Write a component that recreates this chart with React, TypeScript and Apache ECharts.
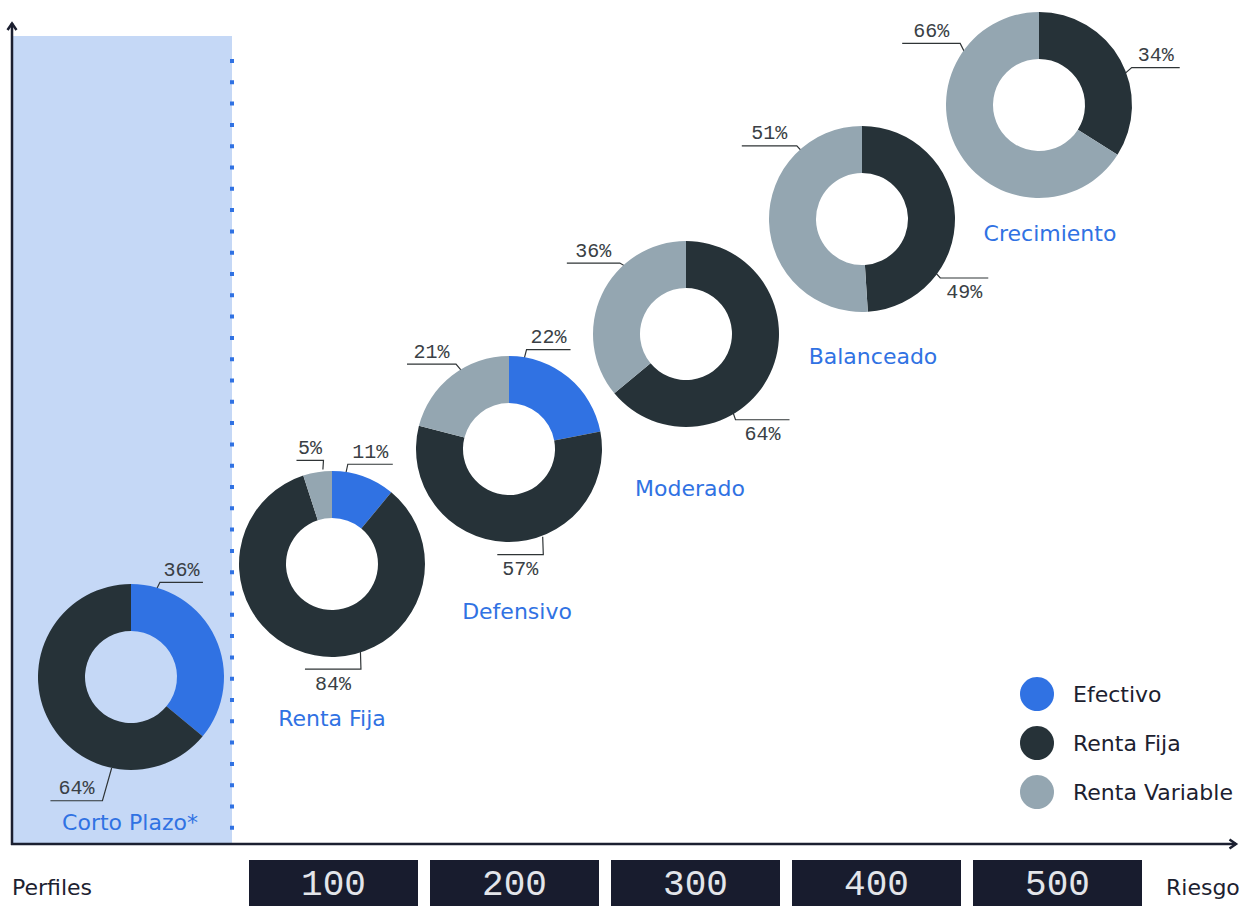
import React, { useEffect, useRef } from "react";
import * as echarts from "echarts";

// ---- data ----
const PROFILES = ["Corto Plazo*", "Renta Fija", "Defensivo", "Moderado", "Balanceado", "Crecimiento"];
const ASSET_CLASSES = ["Efectivo", "Renta Fija", "Renta Variable"];
const EFECTIVO = [36, 11, 22, 0, 0, 0];
const RENTA_FIJA = [64, 84, 57, 64, 49, 34];
const RENTA_VARIABLE = [0, 5, 21, 36, 51, 66];
const RISK_TICKS = ["100", "200", "300", "400", "500"];
const AXIS_TITLES = ["Perfiles", "Riesgo"];

// ---- layout / style ----
const W = 1243;
const H = 906;
const PIE_CENTERS = [
  [131, 677],
  [332, 564],
  [509, 449],
  [686, 334],
  [862, 219],
  [1039, 105],
];
const NAME_POS = [
  [130, 822],
  [332, 718],
  [517, 611],
  [690, 488],
  [873, 356],
  [1050, 233],
];
const COLORS: Record<string, string> = {
  Efectivo: "#3072e3",
  "Renta Fija": "#263238",
  "Renta Variable": "#94a6b1",
};
// leader layout per profile / asset class:
// [anchorAngle, anchorR, elbowAngle, elbowR, direction, textBelow, segmentLength]
const LEADERS: (number[] | null)[][] = [
  [[14, 75, 17, 99, 1, 0, 43], [192, 93, 193, 127, -1, 0, 52], null],
  [[8, 76, 9, 101, 1, 0, 45], [162, 92, 164.6, 109, -1, 1, 56], [354.5, 95, 355.3, 104, -1, 0, 27]],
  [[8, 70, 10, 101, 1, 0, 44], [159, 94, 162, 111, -1, 1, 46], [331, 73, 328, 100, -1, 0, 49]],
  [null, [149, 91, 150, 99, 1, 1, 54], [322, 75, 317, 97, -1, 0, 53]],
  [null, [126, 90, 127, 98, 1, 1, 48], [318.6, 78, 318.3, 98, -1, 0, 55]],
  [null, [70, 91, 68, 100, 1, 0, 48], [299, 76, 308, 100, -1, 0, 58]],
];
const AXIS_COLOR = "#1b1f30";
const TEXT_DARK = "#1c2130";
const SANS = "DejaVu Sans";
const MONO = "'Liberation Mono', 'Courier New', monospace";

function buildOption() {
  const values = [EFECTIVO, RENTA_FIJA, RENTA_VARIABLE];
  const series = PROFILES.map((profile, i) => {
    const items: any[] = [];
    const leaders: (number[] | null)[] = [];
    ASSET_CLASSES.forEach((name, k) => {
      const v = values[k][i];
      if (v > 0) {
        items.push({ name, value: v, itemStyle: { color: COLORS[name] } });
        leaders.push(LEADERS[i][k]);
      }
    });
    const [cx, cy] = PIE_CENTERS[i];
    const pt = (a: number, r: number) => {
      const t = (a * Math.PI) / 180;
      return [cx + r * Math.sin(t), cy - r * Math.cos(t)];
    };
    return {
      type: "pie",
      id: "perfil-" + i,
      name: "Perfil " + profile,
      center: [cx, cy],
      radius: [46, 93],
      startAngle: 90,
      clockwise: true,
      avoidLabelOverlap: false,
      silent: true,
      itemStyle: { borderWidth: 0 },
      label: {
        show: true,
        position: "outside",
        formatter: "{c}%",
        fontFamily: MONO,
        fontSize: 20,
        color: "#3a3f45",
      },
      labelLine: {
        show: true,
        length: 10,
        length2: 30,
        lineStyle: { color: "#2f3436", width: 1.2 },
      },
      labelLayout: (params: any) => {
        const L = leaders[params.dataIndex];
        if (!L) return {};
        const [a0, r0, a1, r1, dir, below, len] = L;
        const s = pt(a0, r0);
        const e = pt(a1, r1);
        const end = [e[0] + dir * len, e[1]];
        return {
          x: (e[0] + end[0]) / 2,
          y: below ? e[1] + 5 : e[1] - 2,
          align: "center",
          verticalAlign: below ? "top" : "bottom",
          labelLinePoints: [s, e, end],
        };
      },
      data: items,
    };
  });

  const textEl = (text: string, x: number, y: number, fill: string, size: number, align: string) => ({
    type: "text",
    x,
    y,
    z: 5,
    style: {
      text,
      fill,
      fontSize: size,
      fontFamily: SANS,
      align,
      verticalAlign: "middle",
      textAlign: align,
      textVerticalAlign: "middle",
    },
  });

  const graphic: any[] = [
    { type: "rect", z: 0, shape: { x: 13, y: 36, width: 219, height: 808 }, style: { fill: "#c5d8f6" } },
    {
      type: "line",
      z: 1,
      shape: { x1: 232, y1: 59, x2: 232, y2: 832 },
      style: { stroke: "#3072e3", lineWidth: 4, lineDash: [4, 17.3] },
    },
    { type: "line", z: 3, shape: { x1: 12, y1: 23, x2: 12, y2: 845 }, style: { stroke: AXIS_COLOR, lineWidth: 2.5 } },
    {
      type: "polyline",
      z: 3,
      shape: { points: [[7.5, 30], [12, 23.5], [16.5, 30]] },
      style: { stroke: AXIS_COLOR, lineWidth: 2.5, fill: null },
    },
    { type: "line", z: 3, shape: { x1: 11, y1: 844, x2: 1236, y2: 844 }, style: { stroke: AXIS_COLOR, lineWidth: 2.5 } },
    {
      type: "polyline",
      z: 3,
      shape: { points: [[1229.5, 839.5], [1236, 844], [1229.5, 848.5]] },
      style: { stroke: AXIS_COLOR, lineWidth: 2.5, fill: null },
    },
    textEl(AXIS_TITLES[0], 12, 887, TEXT_DARK, 22, "left"),
    textEl(AXIS_TITLES[1], 1166, 887, TEXT_DARK, 22, "left"),
    ...PROFILES.map((p, i) => textEl(p, NAME_POS[i][0], NAME_POS[i][1], "#3072e3", 22, "center")),
  ];

  return {
    animation: false,
    backgroundColor: "#ffffff",
    grid: { left: 243, right: 95, top: 36, bottom: 62 },
    xAxis: {
      type: "category",
      data: RISK_TICKS,
      axisLine: { show: false },
      axisTick: { show: false },
      splitLine: { show: false },
      axisLabel: {
        interval: 0,
        margin: 16,
        color: "#e3e5ea",
        fontFamily: MONO,
        fontSize: 36,
        backgroundColor: "#181c2e",
        width: 169,
        height: 46,
        lineHeight: 50,
        align: "center",
        verticalAlign: "top",
      },
    },
    yAxis: { type: "value", show: false },
    legend: {
      data: ASSET_CLASSES,
      orient: "vertical",
      left: 1015,
      top: 672,
      icon: "circle",
      itemWidth: 62,
      itemHeight: 34,
      itemGap: 15,
      selectedMode: false,
      textStyle: { fontSize: 22, fontFamily: SANS, color: TEXT_DARK },
    },
    graphic,
    series,
  };
}

export default function App() {
  const ref = useRef<HTMLDivElement>(null);
  useEffect(() => {
    if (!ref.current) return;
    const chart = echarts.init(ref.current, undefined, { renderer: "svg" });
    chart.setOption(buildOption() as any);
    return () => chart.dispose();
  }, []);
  return (
    <div
      ref={ref}
      style={{ position: "absolute", left: 0, top: 0, width: W, height: H, background: "#fff" }}
    />
  );
}
